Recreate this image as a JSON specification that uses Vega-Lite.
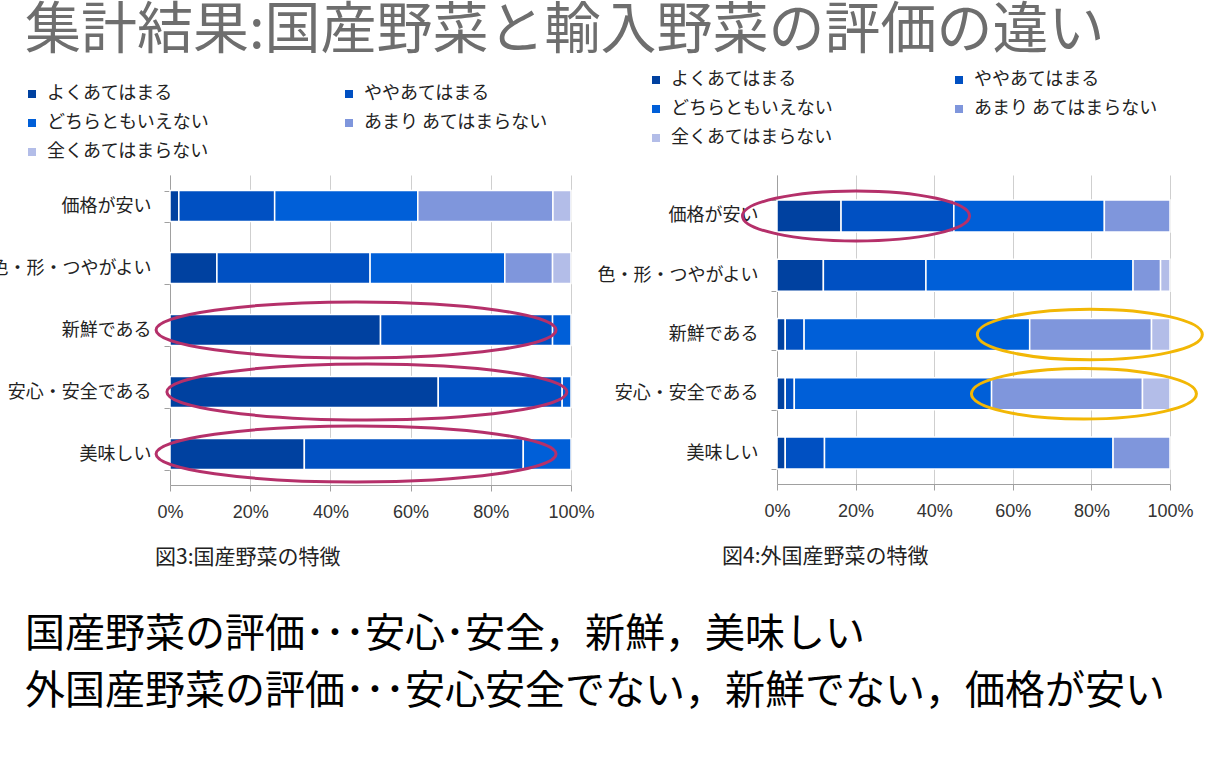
{
  "$schema": "https://vega.github.io/schema/vega-lite/v6.json",
  "background": "white",
  "padding": {"left": -11, "top": 3, "right": 0, "bottom": 0},
  "title": {
    "text": "集計結果:国産野菜と輸入野菜の評価の違い",
    "anchor": "start",
    "frame": "group",
    "fontSize": 56,
    "font": "Noto Sans CJK JP",
    "fontWeight": "normal",
    "color": "#6e6e6e",
    "dx": -145,
    "offset": 11
  },
  "datasets": {
    "dom": [
      {"item": "価格が安い", "level": "よくあてはまる", "rank": 1, "pct": 2.2},
      {"item": "価格が安い", "level": "ややあてはまる", "rank": 2, "pct": 23.9},
      {"item": "価格が安い", "level": "どちらともいえない", "rank": 3, "pct": 35.7},
      {"item": "価格が安い", "level": "あまり あてはまらない", "rank": 4, "pct": 33.7},
      {"item": "価格が安い", "level": "全くあてはまらない", "rank": 5, "pct": 4.5},
      {"item": "色・形・つやがよい", "level": "よくあてはまる", "rank": 1, "pct": 11.7},
      {"item": "色・形・つやがよい", "level": "ややあてはまる", "rank": 2, "pct": 38.2},
      {"item": "色・形・つやがよい", "level": "どちらともいえない", "rank": 3, "pct": 33.6},
      {"item": "色・形・つやがよい", "level": "あまり あてはまらない", "rank": 4, "pct": 11.9},
      {"item": "色・形・つやがよい", "level": "全くあてはまらない", "rank": 5, "pct": 4.6},
      {"item": "新鮮である", "level": "よくあてはまる", "rank": 1, "pct": 52.5},
      {"item": "新鮮である", "level": "ややあてはまる", "rank": 2, "pct": 42.9},
      {"item": "新鮮である", "level": "どちらともいえない", "rank": 3, "pct": 4.6},
      {"item": "安心・安全である", "level": "よくあてはまる", "rank": 1, "pct": 66.9},
      {"item": "安心・安全である", "level": "ややあてはまる", "rank": 2, "pct": 30.9},
      {"item": "安心・安全である", "level": "どちらともいえない", "rank": 3, "pct": 2.2},
      {"item": "美味しい", "level": "よくあてはまる", "rank": 1, "pct": 33.5},
      {"item": "美味しい", "level": "ややあてはまる", "rank": 2, "pct": 54.6},
      {"item": "美味しい", "level": "どちらともいえない", "rank": 3, "pct": 11.9}
    ],
    "imp": [
      {"item": "価格が安い", "level": "よくあてはまる", "rank": 1, "pct": 16.3},
      {"item": "価格が安い", "level": "ややあてはまる", "rank": 2, "pct": 28.7},
      {"item": "価格が安い", "level": "どちらともいえない", "rank": 3, "pct": 38.3},
      {"item": "価格が安い", "level": "あまり あてはまらない", "rank": 4, "pct": 16.7},
      {"item": "色・形・つやがよい", "level": "よくあてはまる", "rank": 1, "pct": 11.8},
      {"item": "色・形・つやがよい", "level": "ややあてはまる", "rank": 2, "pct": 26.1},
      {"item": "色・形・つやがよい", "level": "どちらともいえない", "rank": 3, "pct": 52.7},
      {"item": "色・形・つやがよい", "level": "あまり あてはまらない", "rank": 4, "pct": 7.0},
      {"item": "色・形・つやがよい", "level": "全くあてはまらない", "rank": 5, "pct": 2.4},
      {"item": "新鮮である", "level": "よくあてはまる", "rank": 1, "pct": 2.1},
      {"item": "新鮮である", "level": "ややあてはまる", "rank": 2, "pct": 4.8},
      {"item": "新鮮である", "level": "どちらともいえない", "rank": 3, "pct": 57.4},
      {"item": "新鮮である", "level": "あまり あてはまらない", "rank": 4, "pct": 31.0},
      {"item": "新鮮である", "level": "全くあてはまらない", "rank": 5, "pct": 4.7},
      {"item": "安心・安全である", "level": "よくあてはまる", "rank": 1, "pct": 2.1},
      {"item": "安心・安全である", "level": "ややあてはまる", "rank": 2, "pct": 2.3},
      {"item": "安心・安全である", "level": "どちらともいえない", "rank": 3, "pct": 50.2},
      {"item": "安心・安全である", "level": "あまり あてはまらない", "rank": 4, "pct": 38.4},
      {"item": "安心・安全である", "level": "全くあてはまらない", "rank": 5, "pct": 7.0},
      {"item": "美味しい", "level": "よくあてはまる", "rank": 1, "pct": 2.1},
      {"item": "美味しい", "level": "ややあてはまる", "rank": 2, "pct": 10.0},
      {"item": "美味しい", "level": "どちらともいえない", "rank": 3, "pct": 73.5},
      {"item": "美味しい", "level": "あまり あてはまらない", "rank": 4, "pct": 14.5}
    ],
    "dom_marks": [
      {"item": "新鮮である", "center": 0.464},
      {"item": "安心・安全である", "center": 0.491},
      {"item": "美味しい", "center": 0.464}
    ],
    "imp_marks": [
      {"item": "価格が安い", "center": 0.201, "note": "pink"},
      {"item": "新鮮である", "center": 0.796, "note": "yellow"},
      {"item": "安心・安全である", "center": 0.781, "note": "yellow"}
    ]
  },
  "config": {
    "view": {"stroke": null},
    "font": "Noto Sans CJK JP",
    "legend": {
      "orient": "none",
      "columns": 2,
      "symbolType": "square",
      "symbolSize": 64,
      "symbolStrokeWidth": 0,
      "labelFontSize": 18,
      "labelFont": "Noto Sans CJK JP",
      "labelColor": "#222222",
      "rowPadding": 11,
      "labelOffset": 6,
      "labelLimit": 400,
      "title": null
    },
    "axisX": {
      "title": null,
      "grid": true,
      "gridColor": "#cfcfcf",
      "domainColor": "#a0a0a0",
      "tickColor": "#a0a0a0",
      "tickSize": 6,
      "labelFont": "Liberation Sans",
      "labelFontSize": 18,
      "labelColor": "#333333",
      "labelPadding": 12,
      "labelFlush": false,
      "labelOverlap": false
    },
    "axisY": {
      "title": null,
      "grid": false,
      "domainColor": "#a0a0a0",
      "tickColor": "#a0a0a0",
      "tickSize": 6,
      "tickBand": "extent",
      "labelFont": "Noto Sans CJK JP",
      "labelFontSize": 18,
      "labelColor": "#222222",
      "labelPadding": 13,
      "labelLimit": 400
    },
    "title": {"fontWeight": "normal"}
  },
  "vconcat": [
    {
      "title": {
        "text": ["国産野菜の評価･･･安心･安全，新鮮，美味しい", "外国産野菜の評価･･･安心安全でない，新鮮でない，価格が安い"],
        "orient": "bottom",
        "anchor": "start",
        "frame": "group",
        "fontSize": 40,
        "lineHeight": 57,
        "font": "Noto Sans CJK JP",
        "fontWeight": "normal",
        "color": "#000000",
        "dx": -145,
        "offset": 47
      },
      "bounds": "flush",
      "spacing": 206,
      "resolve": {
        "scale": {"x": "independent", "y": "independent", "color": "independent"},
        "legend": {"color": "independent"}
      },
      "hconcat": [
        {
          "width": 401,
          "height": 310,
          "title": {
            "text": "図3:国産野菜の特徴",
            "orient": "bottom",
            "anchor": "start",
            "frame": "group",
            "fontSize": 21,
            "font": "Noto Sans CJK JP",
            "fontWeight": "normal",
            "color": "#222222",
            "dx": -15,
            "offset": 26
          },
          "layer": [
            {
              "data": {"name": "dom"},
              "mark": {"type": "bar", "stroke": "white", "strokeWidth": 1.5},
              "encoding": {
                "x": {
                  "field": "pct", "type": "quantitative", "stack": "normalize",
                  "scale": {"domain": [0, 1], "nice": false},
                  "axis": {"values": [0, 0.2, 0.4, 0.6, 0.8, 1], "format": ".0%"}
                },
                "y": {
                  "field": "item", "type": "nominal",
                  "sort": ["価格が安い", "色・形・つやがよい", "新鮮である", "安心・安全である", "美味しい"],
                  "scale": {"paddingInner": 0.5, "paddingOuter": 0.25}
                },
                "color": {
                  "field": "level", "type": "nominal",
                  "scale": {
                    "domain": ["よくあてはまる", "どちらともいえない", "全くあてはまらない", "ややあてはまる", "あまり あてはまらない"],
                    "range": ["#0041a0", "#005fd8", "#b3bde8", "#0050c2", "#7f96dc"]
                  },
                  "legend": {"legendX": -147, "legendY": -90, "columnPadding": 131}
                },
                "order": {"field": "rank", "type": "quantitative"}
              }
            },
            {
              "data": {"name": "dom_marks"},
              "mark": {
                "type": "point",
                "shape": "M-1,0C-1,-0.0773,-0.5523,-0.14,0,-0.14C0.5523,-0.14,1,-0.0773,1,0C1,0.0773,0.5523,0.14,0,0.14C-0.5523,0.14,-1,0.0773,-1,0Z",
                "size": 160000,
                "filled": false,
                "stroke": "#b5306a",
                "strokeWidth": 3,
                "opacity": 1
              },
              "encoding": {
                "x": {"field": "center", "type": "quantitative"},
                "y": {"field": "item", "type": "nominal", "sort": ["価格が安い", "色・形・つやがよい", "新鮮である", "安心・安全である", "美味しい"]}
              }
            }
          ]
        },
        {
          "width": 393,
          "height": 309,
          "title": {
            "text": "図4:外国産野菜の特徴",
            "orient": "bottom",
            "anchor": "start",
            "frame": "group",
            "fontSize": 21,
            "font": "Noto Sans CJK JP",
            "fontWeight": "normal",
            "color": "#222222",
            "dx": -55,
            "offset": 26
          },
          "layer": [
            {
              "data": {"name": "imp"},
              "mark": {"type": "bar", "stroke": "white", "strokeWidth": 1.5},
              "encoding": {
                "x": {
                  "field": "pct", "type": "quantitative", "stack": "normalize",
                  "scale": {"domain": [0, 1], "nice": false},
                  "axis": {"values": [0, 0.2, 0.4, 0.6, 0.8, 1], "format": ".0%"}
                },
                "y": {
                  "field": "item", "type": "nominal",
                  "sort": ["価格が安い", "色・形・つやがよい", "新鮮である", "安心・安全である", "美味しい"],
                  "scale": {"paddingInner": 0.46, "paddingOuter": 0.3375, "align": 0.625}
                },
                "color": {
                  "field": "level", "type": "nominal",
                  "scale": {
                    "domain": ["よくあてはまる", "どちらともいえない", "全くあてはまらない", "ややあてはまる", "あまり あてはまらない"],
                    "range": ["#0041a0", "#005fd8", "#b3bde8", "#0050c2", "#7f96dc"]
                  },
                  "legend": {"legendX": -130, "legendY": -104, "columnPadding": 117}
                },
                "order": {"field": "rank", "type": "quantitative"}
              }
            },
            {
              "data": {"name": "imp_marks"},
              "transform": [{"filter": "datum.note === 'pink'"}],
              "mark": {
                "type": "point",
                "shape": "M-1,0C-1,-0.1215,-0.5523,-0.22,0,-0.22C0.5523,-0.22,1,-0.1215,1,0C1,0.1215,0.5523,0.22,0,0.22C-0.5523,0.22,-1,0.1215,-1,0Z",
                "size": 51529,
                "filled": false,
                "stroke": "#b5306a",
                "strokeWidth": 3,
                "opacity": 1
              },
              "encoding": {
                "x": {"field": "center", "type": "quantitative"},
                "y": {"field": "item", "type": "nominal", "sort": ["価格が安い", "色・形・つやがよい", "新鮮である", "安心・安全である", "美味しい"]}
              }
            },
            {
              "data": {"name": "imp_marks"},
              "transform": [{"filter": "datum.note === 'yellow'"}],
              "mark": {
                "type": "point",
                "shape": "M-1,0C-1,-0.1243,-0.5523,-0.225,0,-0.225C0.5523,-0.225,1,-0.1243,1,0C1,0.1243,0.5523,0.225,0,0.225C-0.5523,0.225,-1,0.1243,-1,0Z",
                "size": 50625,
                "filled": false,
                "stroke": "#f2b705",
                "strokeWidth": 3,
                "opacity": 1
              },
              "encoding": {
                "x": {"field": "center", "type": "quantitative"},
                "y": {"field": "item", "type": "nominal", "sort": ["価格が安い", "色・形・つやがよい", "新鮮である", "安心・安全である", "美味しい"]}
              }
            }
          ]
        }
      ]
    }
  ]
}
